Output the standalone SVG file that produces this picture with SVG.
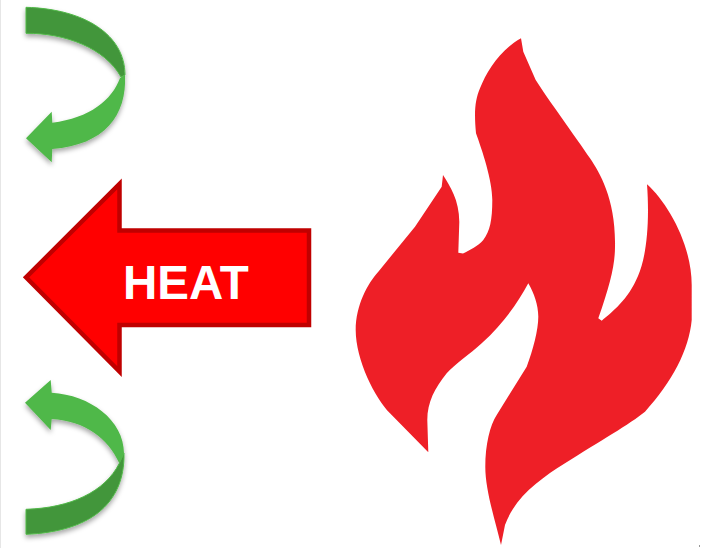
<svg xmlns="http://www.w3.org/2000/svg" width="705" height="548" viewBox="0 0 705 548">
<defs>
<style>
.light{fill:#50b848}
.dark{fill:#43963a;stroke:#50b848;stroke-width:1}
.label{font-family:"Liberation Sans",Arial,sans-serif;font-weight:bold;font-size:47.500px;fill:#fff}
</style>
<filter id="shadow" x="-20%" y="-20%" width="150%" height="150%">
<feDropShadow dx="0" dy="3" stdDeviation="2.500" flood-color="#000" flood-opacity="0.350"/>
</filter>
</defs>
<rect width="705" height="548" fill="#fff"/>
<rect x="0" y="0" width="1" height="548" fill="#e6e6e6"/>
<g id="arrow-top" filter="url(#shadow)">
<path class="light" d="M120,78 C112,100 90,118 52.300,122.700 L51.700,111.700 L26,138.300 L51.700,162.300 L52.300,149 C105,145 127,115 125,75 Z"/>
<path class="dark" d="M26,7.300 C85,9 125,35 125,75 L121,77 C105,48 65,33 26,33.300 Z"/>
</g>
<g id="arrow-bottom" filter="url(#shadow)">
<path class="light" d="M119.300,463.300 C108,438 85,421 51.700,419 L50.700,430 L25,402.700 L50.700,380 L51.700,392.700 C90,395 124,420 124,453.300 Z"/>
<path class="dark" d="M26,534.300 C88,532 125,505 124,453.300 L119.300,463.300 C105,492 70,508 26,509.300 Z"/>
</g>
<g id="heat-arrow">
<path d="M26,277.300 L119.500,184 L119.500,230.500 L309,230.500 L309,325 L119.500,325 L119.500,371.500 Z" fill="#ff0000" stroke="#c00000" stroke-width="4.500"/>
<text class="label" x="123" y="299">HEAT</text>
</g>
<g id="flame">
<path fill="#ee1f27" d="M521,38.300 L523.300,51.700 L535.700,80 C547,98 575,136 590,158.300 C600,173 616,200 615,246.700 C615,265 610,285 598.300,318.300 L601.700,320.700 C612,312 628,300 638,276 C646,258 650,225 647,184.300 C668,203 691.700,245 691.700,285 L691.700,320 C689,350 672,382 645,411.700 C630,424 600,441 565,463.300 C540,479 515,497 505,525 L501,545 C495,520 485.300,490 485.300,466.700 C485.300,445 490,425 496.700,415 L526.700,366.700 C533,350 538.300,330 538.300,316.700 C538.300,305 534,293 528.300,283.300 C518,302 505,322 481.700,343.300 C470,354 455,364 446.700,373.300 C435,388 427.300,402 427.300,420 L428.300,452.300 L390,413.300 C375,398 355.700,360 355.700,330 C355.700,305 368,283 378.300,271.700 L415,226.700 L441.700,186.700 L443,175 C450,186 459.300,200 459.300,222 L458.300,252.700 L463,253.500 C470,250 478,246 483.300,240 C490,231 492.300,220 492.300,200 C492.300,180 482,150 476,133.300 C474,112 475,100 480,88.300 C487,71 500,50 521,38.300 Z"/>
</g>
<rect x="699" y="545.500" width="1" height="1" fill="#333"/>
</svg>
